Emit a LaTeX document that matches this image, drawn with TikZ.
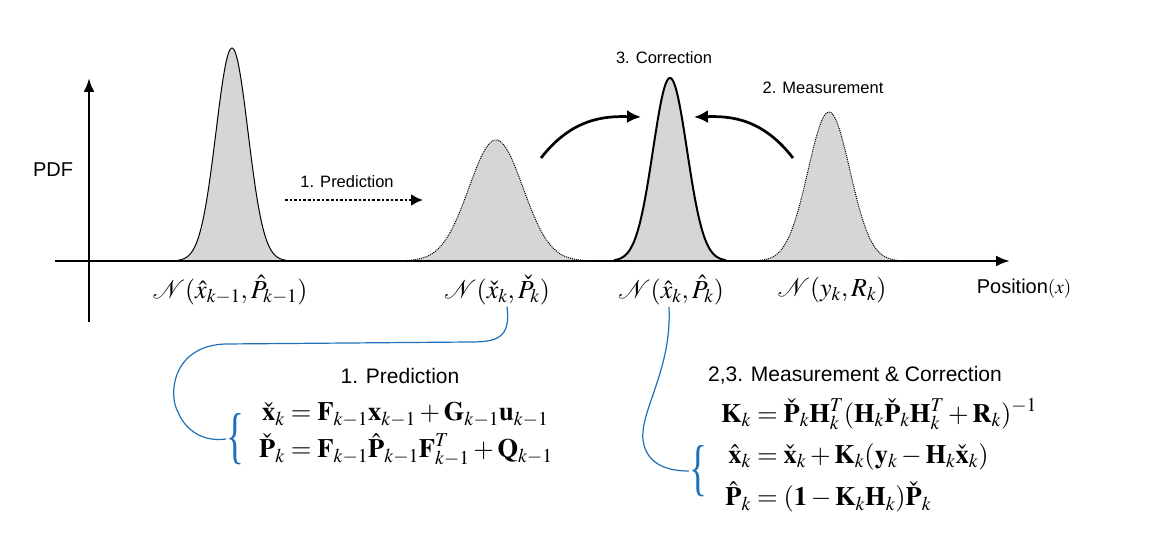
\documentclass[tikz,border=0pt]{standalone}
\usepackage{amsmath}
\usepackage{mathptmx}
\usepackage[no-math]{fontspec}
\newfontfamily\lab{Liberation Sans}
\newfontfamily\bracefont{Liberation Serif}
\usetikzlibrary{arrows.meta}
\definecolor{gfill}{RGB}{214,214,214}
\definecolor{bblue}{RGB}{30,112,184}
\tikzset{
  axis/.style={line width=2.7pt,-{Latex[length=14pt,width=11pt]}},
  smalllab/.style={font=\lab\fontsize{16.5}{20}\selectfont, inner sep=0pt},
  biglab/.style={font=\lab\fontsize{21}{25}\selectfont, inner sep=0pt},
  mlab/.style={font=\fontsize{26}{30}\selectfont, inner sep=0pt},
  eqs/.style={font=\fontsize{26.5}{31}\selectfont, inner sep=0pt},
  curvarrow/.style={line width=2.7pt,-{Latex[length=14pt,width=13pt]}},
  bluecurve/.style={draw=bblue, line width=1.2pt},
  bracestyle/.style={inner sep=0pt,text=bblue,font=\bracefont\fontsize{62}{62}\selectfont},
}
\begin{document}
\begin{tikzpicture}[x=1pt,y=-1pt]
\useasboundingbox (0,0) rectangle (1162,545);
% Gaussians
\fill[gfill] plot[domain=178:286,samples=90] (\x,{261-213*exp(-((\x-232)^2)/(2*16*16))}) -- cycle;
\draw[line width=1pt] plot[domain=178:286,samples=90] (\x,{261-213*exp(-((\x-232)^2)/(2*16*16))});
\fill[gfill] plot[domain=407:585,samples=90] (\x,{261-121*exp(-((\x-496)^2)/(2*27*27))}) -- cycle;
\draw[line width=1pt,densely dotted] plot[domain=407:585,samples=90] (\x,{261-121*exp(-((\x-496)^2)/(2*27*27))});
\fill[gfill] plot[domain=614:726,samples=90] (\x,{261-183*exp(-((\x-670)^2)/(2*17*17))}) -- cycle;
\draw[line width=2pt] plot[domain=614:726,samples=90] (\x,{261-183*exp(-((\x-670)^2)/(2*17*17))});
\fill[gfill] plot[domain=760:898,samples=90] (\x,{261-149*exp(-((\x-829)^2)/(2*21*21))}) -- cycle;
\draw[line width=1pt,densely dotted] plot[domain=760:898,samples=90] (\x,{261-149*exp(-((\x-829)^2)/(2*21*21))});
% axes
\coordinate (xs) at (55,261);
\coordinate (xe) at (1010,261);
\coordinate (ys) at (89,322);
\coordinate (ye) at (89,78);
\draw[axis] (xs) -- (xe);
\draw[axis] (ys) -- (ye);
\node[inner sep=0pt,font=\lab\fontsize{20}{24}\selectfont] (pdf) at (53,170) {PDF};
\node[inner sep=0pt] (pos) at (1024,289) {\lab\fontsize{20}{24}\selectfont Position\fontsize{19}{22}\selectfont$(x)$};
% top labels and arrows
\node[smalllab] (lpred) at (347,182) {1. Prediction};
\coordinate (pa) at (285,200);
\coordinate (pb) at (423,200);
\draw[line width=2.6pt,dotted,-{Latex[length=12pt,width=12pt]}] (pa) -- (pb);
\node[smalllab] (lcorr) at (664,58) {3. Correction};
\node[smalllab] (lmeas) at (823,88) {2. Measurement};
\coordinate (c1s) at (541,158);
\coordinate (c1e) at (641,117);
\coordinate (c2s) at (793,158);
\coordinate (c2e) at (694,117);
\draw[curvarrow] (c1s) .. controls (572,118) and (605,116) .. (c1e);
\draw[curvarrow] (c2s) .. controls (762,118) and (730,116) .. (c2e);
% distribution labels
\node[mlab] (n1) at (230,290) {$\mathcal{N}(\hat{x}_{k-1},\hat{P}_{k-1})$};
\node[mlab] (n2) at (497,290) {$\mathcal{N}(\check{x}_k,\check{P}_k)$};
\node[mlab] (n3) at (671,290) {$\mathcal{N}(\hat{x}_k,\hat{P}_k)$};
\node[mlab] (n4) at (832,290) {$\mathcal{N}(y_k,R_k)$};
% lower left block
\node[biglab] (tpred) at (400,376) {1. Prediction};
\node[eqs] (eq1) at (406,433) {$\begin{aligned}
\check{\mathbf{x}}_k &= \mathbf{F}_{k-1}\mathbf{x}_{k-1}+\mathbf{G}_{k-1}\mathbf{u}_{k-1}\\
\check{\mathbf{P}}_k &= \mathbf{F}_{k-1}\hat{\mathbf{P}}_{k-1}\mathbf{F}_{k-1}^T+\mathbf{Q}_{k-1}
\end{aligned}$};
\node[bracestyle] (br1) at (235,439) {\scalebox{0.6}[1]{\{}};
\draw[bluecurve] (n2.south) ++(10,2) coordinate (b1s) .. controls (511,338) and (497,342) .. (470,342) -- (225,344) .. controls (172,346) and (168,395) .. (178,412) .. controls (186,432) and (205,442) .. (br1.west);
% lower right block
\node[biglab] (tmc) at (855,375) {2,3. Measurement \& Correction};
\node[eqs,font=\fontsize{26.5}{33}\selectfont] (eq2) at (879,457) {\setlength{\jot}{8pt}$\begin{aligned}
\mathbf{K}_k &= \check{\mathbf{P}}_k\mathbf{H}_k^T(\mathbf{H}_k\check{\mathbf{P}}_k\mathbf{H}_k^T+\mathbf{R}_k)^{-1}\\
\hat{\mathbf{x}}_k &= \check{\mathbf{x}}_k+\mathbf{K}_k(\mathbf{y}_k-\mathbf{H}_k\check{\mathbf{x}}_k)\\
\hat{\mathbf{P}}_k &= (\mathbf{1}-\mathbf{K}_k\mathbf{H}_k)\check{\mathbf{P}}_k
\end{aligned}$};
\node[bracestyle] (br2) at (698,471) {\scalebox{0.6}[1]{\{}};
\draw[bluecurve] (n3.south) ++(-2,2) coordinate (b2s) .. controls (672,370) and (640,410) .. (643,440) .. controls (646,463) and (665,471) .. (br2.west);
\end{tikzpicture}
\end{document}
